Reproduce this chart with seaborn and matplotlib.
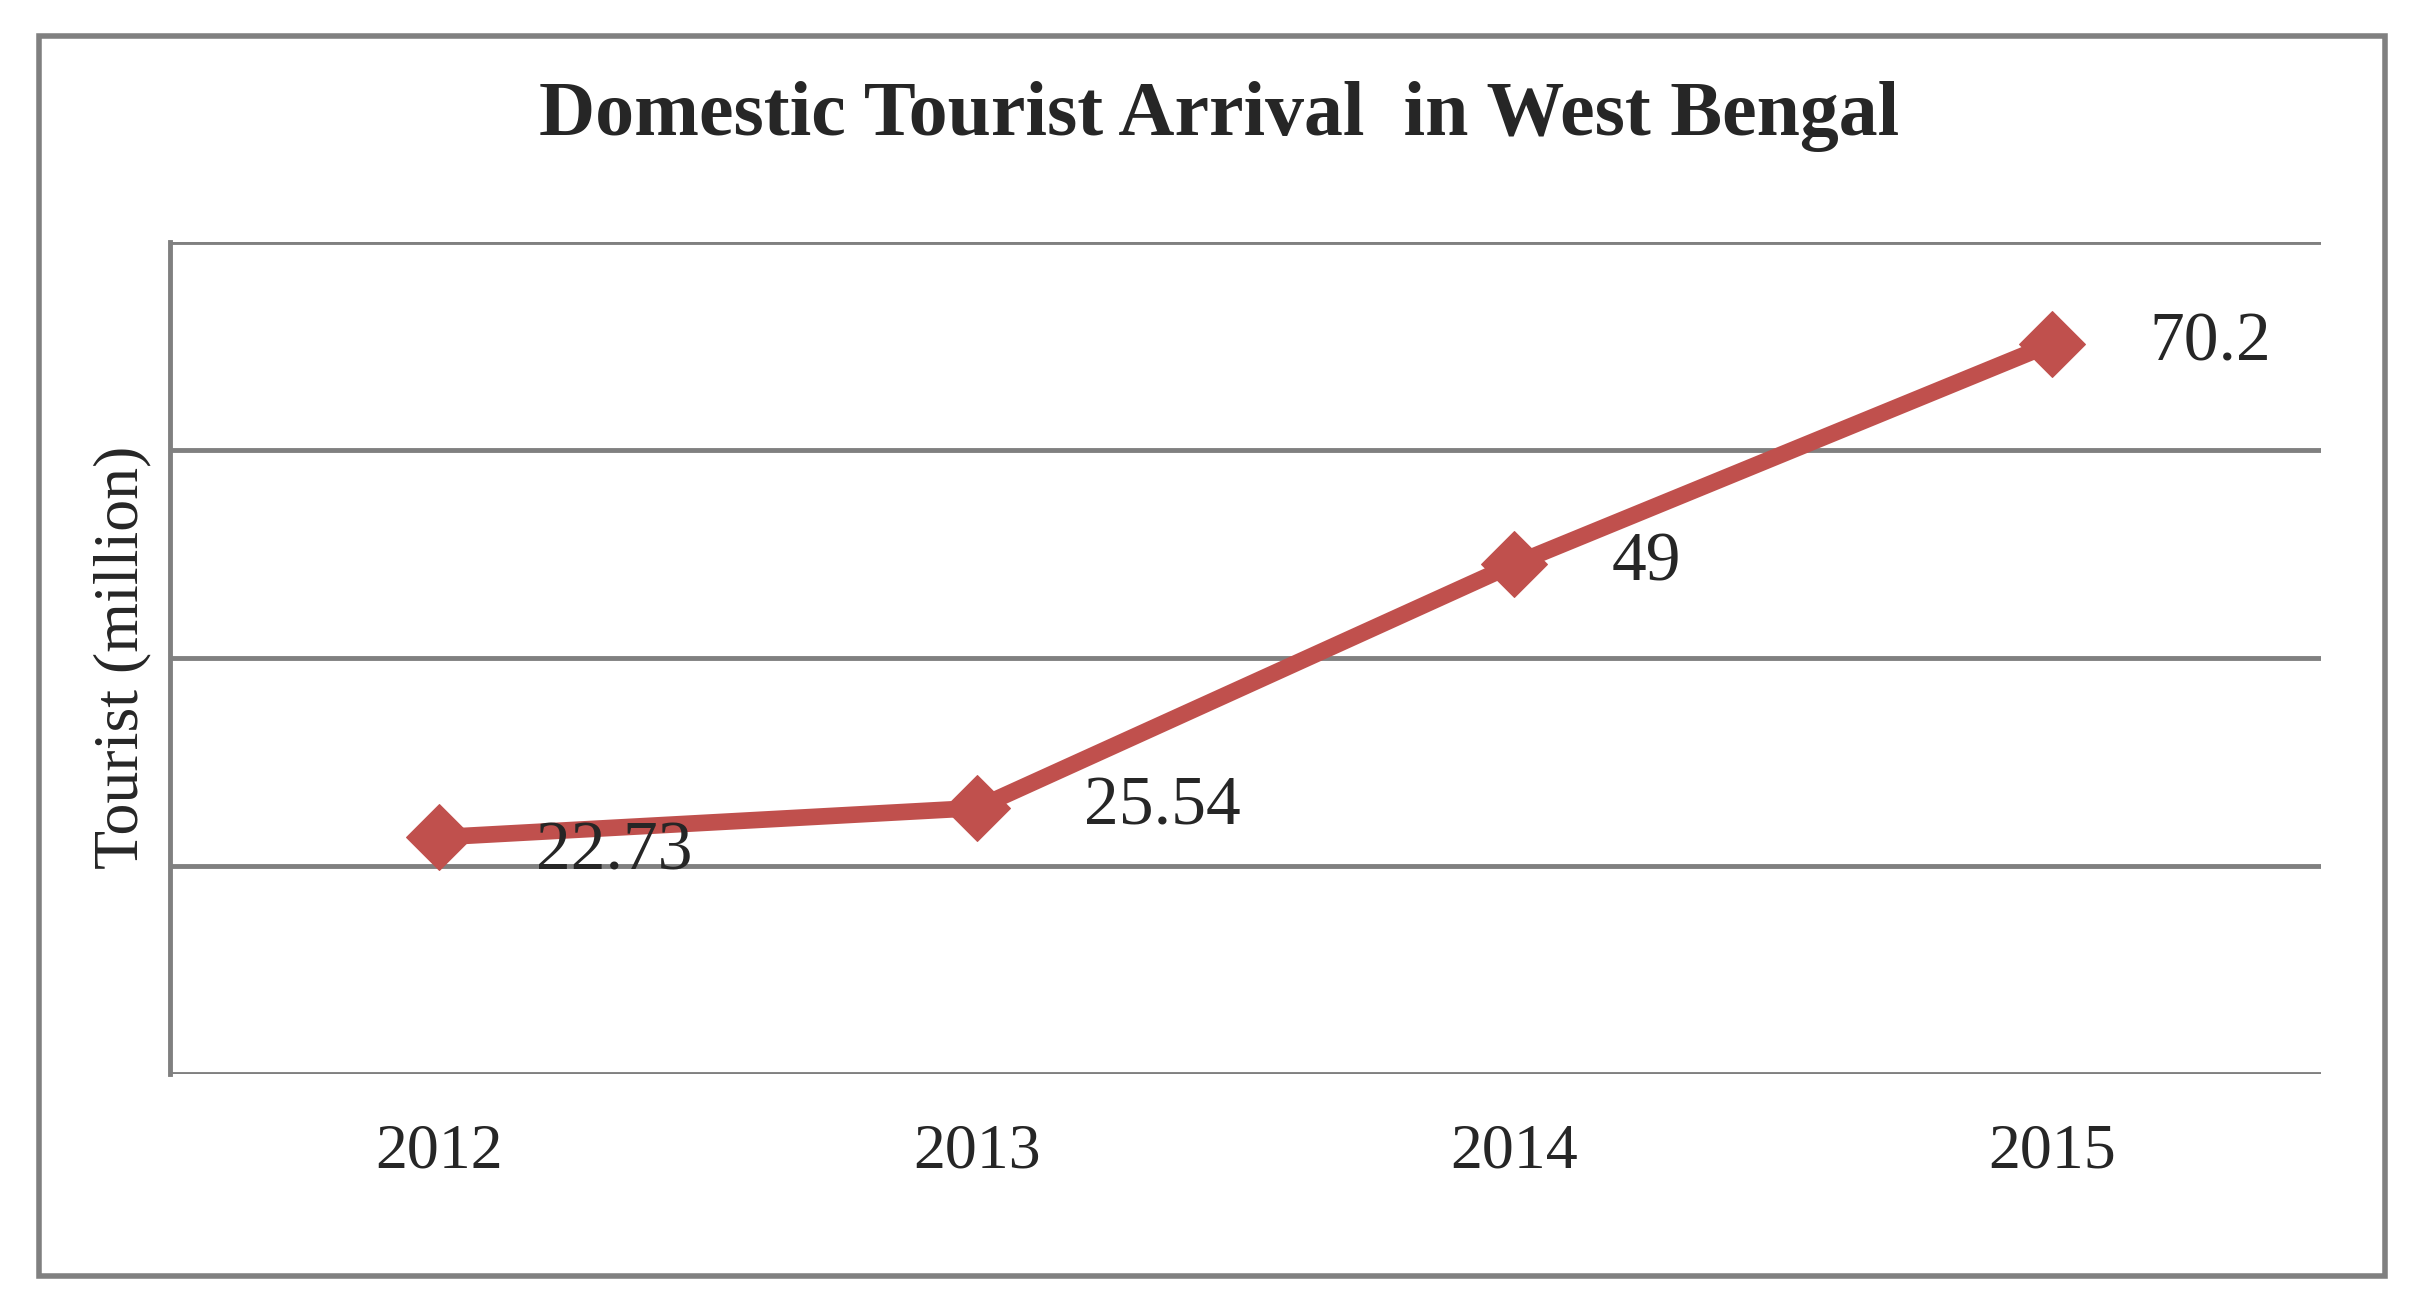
import matplotlib
matplotlib.use("Agg")
import matplotlib.pyplot as plt
import seaborn as sns
import pandas as pd
from matplotlib.patches import Rectangle

years = ["2012", "2013", "2014", "2015"]
tourists = [22.73, 25.54, 49, 70.2]
labels = ["22.73", "25.54", "49", "70.2"]

sns.set_style("white")
plt.rcParams['font.family'] = ['Liberation Serif', 'DejaVu Serif']

df = pd.DataFrame({"year": years, "t": tourists})
fig = plt.figure(figsize=(24.14, 12.92), dpi=100)
ax = fig.add_axes([0.0705, 0.169, 0.891, 0.644])
color = "#c0504d"
sns.lineplot(data=df, x="year", y="t", ax=ax, color=color, linewidth=12,
             marker="D", markersize=34, markeredgecolor=color, sort=False)
ax.set_xlim(-0.5, 3.5)
ax.set_ylim(0, 80)
ax.set_yticks([0, 20, 40, 60, 80])
ax.set_yticklabels([])
ax.tick_params(axis='y', length=0)
ax.tick_params(axis='x', length=0, labelsize=46, pad=36)
ax.grid(axis='y', color='#808080', linewidth=3.5)
for s in ['top', 'right']:
    ax.spines[s].set_visible(False)
ax.spines['bottom'].set_visible(False)
ax.spines['left'].set_color('#808080'); ax.spines['left'].set_linewidth(3.5)
ax.set_xlabel("")
ax.set_ylabel("Tourist (million)", fontsize=46, labelpad=10)
offsets = [(0.18, -1.5), (0.2, 0), (0.18, 0), (0.18, 0)]
for i, (v, l) in enumerate(zip(tourists, labels)):
    ax.text(i + offsets[i][0], v + offsets[i][1], l, fontsize=50, va='center', ha='left')
fig.text(0.505, 0.91, "Domestic Tourist Arrival  in West Bengal", ha='center', va='center',
         fontsize=56, fontweight='bold')
fig.patches.append(Rectangle((0.016, 0.012), 0.972, 0.96, transform=fig.transFigure,
                             fill=False, edgecolor='#808080', linewidth=4))
fig.savefig("out.png", dpi=100)
